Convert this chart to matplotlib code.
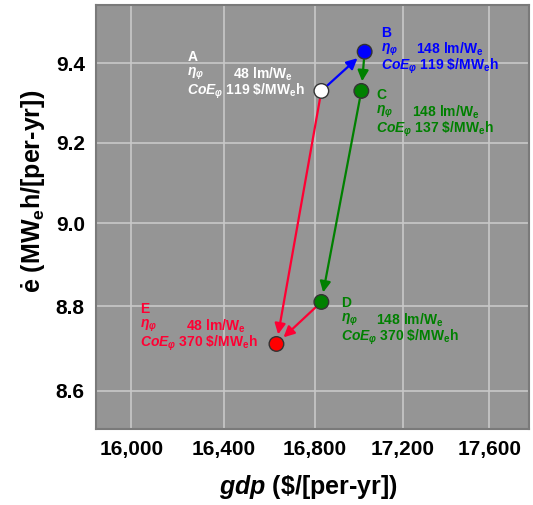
import numpy as np
import matplotlib
matplotlib.use('Agg')
import matplotlib.pyplot as plt
from matplotlib.ticker import FuncFormatter, NullLocator

plt.rcParams['font.family'] = ['Liberation Sans', 'DejaVu Sans']
plt.rcParams['mathtext.fontset'] = 'custom'
plt.rcParams['mathtext.rm'] = 'Liberation Sans'
plt.rcParams['mathtext.it'] = 'Liberation Sans:italic'
plt.rcParams['mathtext.bf'] = 'Liberation Sans:bold'
plt.rcParams['mathtext.bfit'] = 'Liberation Sans:italic:bold'

# --- scenario data ---
labels = ['A', 'B', 'C', 'D', 'E']
gdp = [16830, 17025, 17010, 16830, 16630]      # $/[per-yr]
e_dot = [9.33, 9.43, 9.33, 8.81, 8.71]          # MWe h/[per-yr]
efficacy = [48, 148, 148, 148, 48]              # lm/We
coe = [119, 119, 137, 370, 370]                 # $/MWe h

point_colors = ['white', '#0000ff', '#008000', '#008000', '#ff0000']
text_colors = ['white', '#0000ff', '#008000', '#008000', '#ff0033']

# transitions between scenarios (from, to, colour)
arrows = [(0, 1, '#0000ff'), (1, 2, '#008000'), (2, 3, '#008000'),
          (3, 4, '#ff0033'), (0, 4, '#ff0033')]

# label block offsets in pixels: (letter x, letter y, value x shift)
label_offsets = [(-134, 34, 46), (16, 19, 35), (15, -4, 36),
                 (20, -1, 35), (-136, 35, 46)]

xticks = [16000, 16400, 16800, 17200, 17600]
yticks = [8.6, 8.8, 9.0, 9.2, 9.4]

fig = plt.figure(figsize=(5.33, 5.05), dpi=100)
ax = fig.add_axes([0.180, 0.1505, 0.812, 0.840])
ax.set_facecolor('#959595')
for sp in ax.spines.values():
    sp.set_color('#7a7a7a')
    sp.set_linewidth(1.5)

ax.set_xscale('log')
ax.set_yscale('log')
ax.set_xlim(15850, 17785)
ax.set_ylim(8.511, 9.551)
ax.set_xticks(xticks)
ax.set_yticks(yticks)
ax.xaxis.set_minor_locator(NullLocator())
ax.yaxis.set_minor_locator(NullLocator())
ax.xaxis.set_major_formatter(FuncFormatter(lambda v, p: f'{v:,.0f}'))
ax.yaxis.set_major_formatter(FuncFormatter(lambda v, p: f'{v:.1f}'))
ax.tick_params(length=0, labelsize=15, pad=8)
for t in ax.get_xticklabels() + ax.get_yticklabels():
    t.set_fontweight('bold')
ax.grid(True, color='#c8c8c8', lw=1.2)
ax.set_axisbelow(True)

for i, j, c in arrows:
    ax.annotate('', xy=(gdp[j], e_dot[j]), xytext=(gdp[i], e_dot[i]),
                arrowprops=dict(arrowstyle='-|>', color=c, lw=1.6,
                                mutation_scale=16, shrinkA=6, shrinkB=7),
                zorder=3)

ax.scatter(gdp, e_dot, s=110, c=point_colors, edgecolors='#333333',
           linewidths=1, zorder=4)

for k in range(len(labels)):
    dx, dy, vx = label_offsets[k]
    c = text_colors[k]
    pt = (gdp[k], e_dot[k])
    kw = dict(xy=pt, textcoords='offset pixels', color=c, fontsize=10,
              fontweight='bold', va='center', ha='left', zorder=5)
    ax.annotate(labels[k], xytext=(dx, dy), **kw)
    ax.annotate(r'$\mathbfit{\eta}_{\mathbfit{\varphi}}$', xytext=(dx, dy - 17), **kw)
    ax.annotate(f'{efficacy[k]} lm/W' + r'$_\mathbf{e}$',
                xytext=(dx + vx, dy - 17), **kw)
    ax.annotate(r'$\mathbfit{CoE}_{\mathbfit{\varphi}}$' + f' {coe[k]} '
                + r'\$/MW$_\mathbf{e}$h', xytext=(dx, dy - 34), **kw)

ax.set_xlabel(r'$\mathbfit{gdp}$ (\$/[per-yr])', fontsize=18, fontweight='bold')
ax.set_ylabel(r'ė (MW$_\mathbf{e}$h/[per-yr])', fontsize=18, fontweight='bold')
ax.xaxis.set_label_coords(0.491, -0.104)
ax.yaxis.set_label_coords(-0.113, 0.559)

fig.savefig('out.png', dpi=100)
